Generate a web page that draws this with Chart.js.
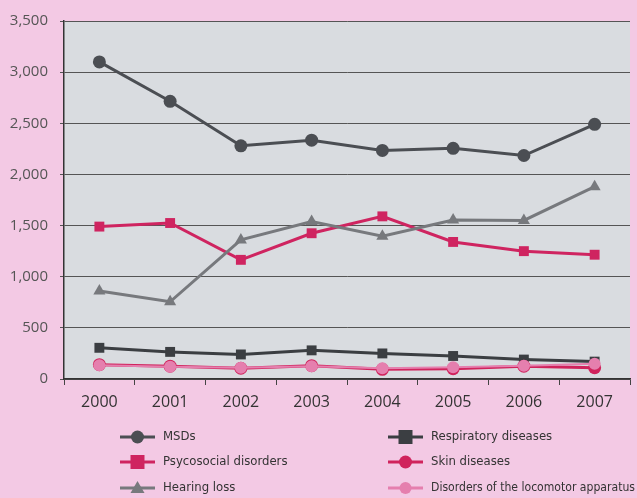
<!DOCTYPE html>
<html lang="en">
<head>
    <meta charset="UTF-8">
    <title>Occupational diseases 2000-2007</title>
    <script src="https://cdn.jsdelivr.net/npm/chart.js"></script>
    <style>
        html, body { margin: 0; padding: 0; background: #f3c9e4; overflow: hidden; }
        .wrap { width: 637px; height: 498px; position: relative; }
    </style>
</head>
<body>
    <div class="wrap"><canvas id="diseaseChart"></canvas></div>

    <script>
        // données
        const years = ['2000', '2001', '2002', '2003', '2004', '2005', '2006', '2007'];
        const msds = [3100, 2715, 2280, 2335, 2235, 2255, 2185, 2490];
        const psycosocial = [1490, 1525, 1165, 1425, 1590, 1340, 1250, 1215];
        const hearingLoss = [860, 755, 1360, 1540, 1395, 1555, 1550, 1880];
        const respiratory = [305, 265, 240, 280, 250, 225, 190, 170];
        const skin = [140, 125, 105, 130, 95, 100, 125, 110];
        const locomotor = [135, 120, 110, 125, 105, 115, 130, 150];

        const series = [
            { label: 'MSDs', data: msds, color: '#4b4e53', style: 'circle', r: 6.5, w: 3 },
            { label: 'Psycosocial disorders', data: psycosocial, color: '#cf2460', style: 'rect', r: 7, w: 3 },
            { label: 'Hearing loss', data: hearingLoss, color: '#77797d', style: 'triangle', r: 7, w: 3 },
            { label: 'Respiratory diseases', data: respiratory, color: '#3b3e42', style: 'rect', r: 7, w: 3 },
            { label: 'Skin diseases', data: skin, color: '#d0235c', style: 'circle', r: 6.5, w: 3 },
            { label: 'Disorders of the locomotor apparatus', data: locomotor, color: '#e57fae', style: 'circle', r: 6, w: 2 }
        ];

        // fond gris de la zone de tracé
        const plotBg = {
            id: 'plotBg',
            beforeDraw(chart) {
                const a = chart.chartArea, ctx = chart.ctx;
                ctx.save();
                ctx.fillStyle = '#d9dce0';
                ctx.fillRect(a.left, a.top, a.right - a.left, a.bottom - a.top);
                ctx.restore();
            }
        };

        function drawMarker(ctx, style, x, y, r, color) {
            ctx.fillStyle = color;
            ctx.beginPath();
            if (style === 'circle') {
                ctx.arc(x, y, r, 0, Math.PI * 2);
            } else if (style === 'rect') {
                ctx.rect(x - r, y - r, 2 * r, 2 * r);
            } else {
                ctx.moveTo(x, y - r);
                ctx.lineTo(x + r, y + r * 0.7);
                ctx.lineTo(x - r, y + r * 0.7);
                ctx.closePath();
            }
            ctx.fill();
        }

        // légende sur deux colonnes
        const twoColLegend = {
            id: 'twoColLegend',
            afterDraw(chart) {
                const ctx = chart.ctx;
                const cols = [{ x: 120, tx: 163 }, { x: 388, tx: 431 }];
                const rows = [437, 462, 488];
                ctx.save();
                ctx.font = '13px "Liberation Sans Narrow", "DejaVu Sans Condensed", sans-serif';
                ctx.textBaseline = 'middle';
                series.forEach((s, i) => {
                    const c = cols[Math.floor(i / 3)];
                    const y = rows[i % 3];
                    ctx.strokeStyle = s.color;
                    ctx.lineWidth = 3;
                    ctx.beginPath();
                    ctx.moveTo(c.x, y);
                    ctx.lineTo(c.x + 35, y);
                    ctx.stroke();
                    drawMarker(ctx, s.style, c.x + 17.5, y, s.r, s.color);
                    ctx.fillStyle = '#333';
                    ctx.fillText(s.label, c.tx, y, 204);
                });
                ctx.restore();
            }
        };

        const ctx = document.getElementById('diseaseChart').getContext('2d');
        const chart = new Chart(ctx, {
            type: 'line',
            data: {
                labels: years,
                datasets: series.slice().reverse().map(s => ({
                    label: s.label,
                    data: s.data,
                    borderColor: s.color,
                    backgroundColor: s.color,
                    borderWidth: s.w,
                    pointStyle: s.style,
                    pointRadius: s.r,
                    pointBorderWidth: 0,
                    fill: false,
                    tension: 0
                }))
            },
            options: {
                responsive: true,
                maintainAspectRatio: false,
                animation: false,
                layout: { padding: { top: 16, right: 0, bottom: 74, left: 0 } },
                plugins: {
                    legend: { display: false },
                    tooltip: { enabled: false }
                },
                scales: {
                    x: {
                        offset: true,
                        grid: { offset: true, drawOnChartArea: false, tickLength: 6, color: '#444' },
                        border: { color: '#333', width: 1.5 },
                        ticks: { color: '#333', font: { family: 'Open Sans', size: 16 }, padding: 8 },
                        afterFit(scale) { scale.height = 45; }
                    },
                    y: {
                        min: 0,
                        max: 3500,
                        grid: { color: '#555', lineWidth: 1, tickLength: 4 },
                        border: { color: '#333', width: 1.5 },
                        ticks: {
                            stepSize: 500,
                            color: '#555',
                            font: { family: 'Open Sans', size: 15 },
                            padding: 12,
                            callback: v => v.toLocaleString('en-US')
                        },
                        afterFit(scale) { scale.width = 64; }
                    }
                }
            },
            plugins: [plotBg, twoColLegend]
        });
    </script>
</body>
</html>
